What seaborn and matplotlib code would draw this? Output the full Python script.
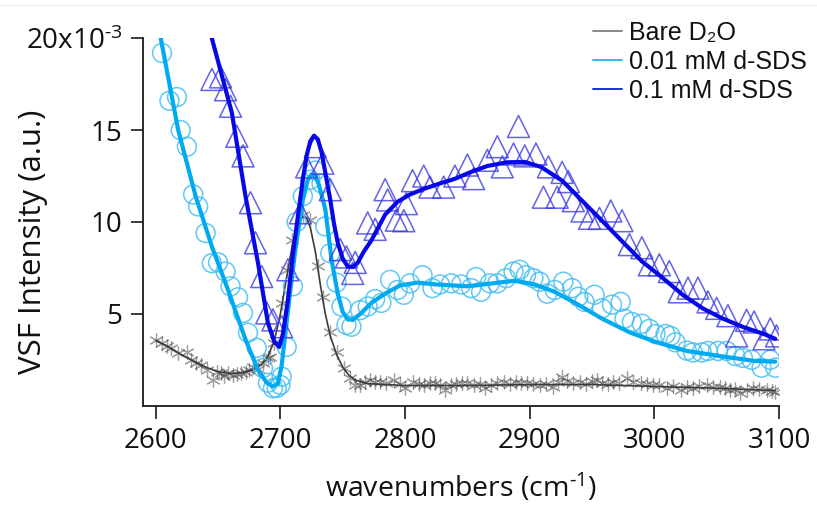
import matplotlib
matplotlib.use("Agg")
import matplotlib.pyplot as plt
from matplotlib.lines import Line2D
import seaborn as sns

# ---------------- data (y in units of 1e-3) ----------------
d2o_x = [2600, 2605, 2609, 2612, 2618, 2625, 2628, 2632, 2636, 2641, 2646, 2649, 2652, 2655,
         2658, 2662, 2665, 2668, 2672, 2675, 2678, 2682, 2686, 2690, 2692, 2695, 2701, 2705,
         2709, 2718, 2724, 2730, 2734, 2740, 2745, 2751, 2756, 2760, 2764, 2768, 2772, 2776,
         2780, 2785, 2791, 2796, 2800, 2806, 2811, 2815, 2820, 2824, 2828, 2832, 2837, 2841,
         2846, 2850, 2855, 2860, 2864, 2869, 2874, 2879, 2884, 2889, 2893, 2898, 2903, 2908,
         2913, 2919, 2923, 2926, 2930, 2935, 2940, 2945, 2950, 2954, 2958, 2963, 2967, 2972,
         2978, 2983, 2989, 2994, 2999, 3004, 3010, 3015, 3021, 3026, 3031, 3036, 3042, 3047,
         3053, 3057, 3061, 3065, 3069, 3074, 3079, 3084, 3090, 3094, 3097]
d2o_y = [3.58, 3.40, 3.25, 3.13, 2.86, 2.94, 2.50, 2.31, 2.20, 1.95, 1.40, 1.85, 1.77, 1.60,
         1.77, 1.67, 1.75, 1.77, 1.85, 1.95, 2.13, 2.00, 2.31, 2.58, 2.67, 3.40, 5.58, 7.40,
         9.03, 10.40, 10.10, 7.60, 5.90, 4.00, 2.94, 2.05, 1.50, 1.15, 1.13, 1.30, 1.40, 1.31,
         1.31, 1.25, 1.40, 1.20, 0.97, 1.31, 1.20, 1.13, 1.25, 1.22, 1.10, 0.86, 1.15, 1.20,
         1.22, 1.22, 1.10, 1.20, 0.95, 1.15, 1.25, 1.31, 1.20, 1.30, 1.25, 1.22, 1.20, 1.13,
         1.20, 1.04, 1.30, 1.58, 1.35, 1.22, 1.30, 1.20, 1.35, 1.40, 1.25, 1.20, 1.31, 1.25,
         1.49, 1.30, 1.22, 1.20, 1.13, 1.10, 0.95, 1.05, 0.86, 1.00, 0.95, 1.05, 1.13, 1.00,
         1.04, 0.95, 0.86, 0.90, 0.68, 0.85, 0.95, 0.90, 0.86, 0.80, 0.77]
d2o_fit_x = [2600, 2610, 2620, 2630, 2640, 2650, 2660, 2670, 2678, 2685, 2690, 2695, 2700,
             2705, 2710, 2714, 2718, 2721, 2724, 2728, 2732, 2736, 2740, 2745, 2750, 2755,
             2760, 2770, 2785, 2800, 2850, 2900, 2950, 3000, 3050, 3097]
d2o_fit_y = [3.55, 3.20, 2.80, 2.45, 2.10, 1.85, 1.75, 1.80, 1.95, 2.25, 2.70, 3.50, 5.00,
             7.00, 8.90, 9.90, 10.30, 10.20, 9.70, 8.40, 6.60, 5.00, 3.80, 2.80, 2.10, 1.65,
             1.40, 1.20, 1.15, 1.10, 1.10, 1.15, 1.15, 1.05, 0.95, 0.82]

sds001_x = [2605, 2611, 2617, 2620, 2625, 2630, 2634, 2640, 2645, 2650, 2656, 2660, 2666, 2670,
            2674, 2681, 2686, 2690, 2694, 2697, 2700, 2701, 2705, 2710, 2713, 2718, 2724, 2728,
            2733, 2736, 2740, 2745, 2749, 2753, 2757, 2764, 2770, 2776, 2781, 2788, 2794, 2799,
            2804, 2814, 2822, 2828, 2837, 2845, 2853, 2857, 2861, 2868, 2874, 2881, 2887, 2892,
            2897, 2903, 2908, 2914, 2920, 2927, 2934, 2939, 2944, 2952, 2958, 2966, 2973, 2976,
            2982, 2990, 2996, 3001, 3009, 3013, 3017, 3026, 3031, 3038, 3043, 3051, 3058, 3065,
            3071, 3078, 3086, 3093, 3097]
sds001_y = [19.20, 16.60, 16.80, 15.00, 14.10, 11.50, 10.85, 9.40, 7.76, 7.80, 7.30, 6.50, 5.90, 5.05,
            3.97, 3.15, 2.05, 1.25, 0.95, 0.96, 1.13, 1.58, 3.20, 6.50, 10.00, 11.40, 12.30, 12.80,
            12.10, 9.76, 8.30, 6.70, 5.40, 4.40, 4.30, 5.20, 5.40, 5.80, 5.60, 6.85, 6.30, 6.04,
            6.66, 7.10, 6.40, 6.60, 6.66, 6.60, 6.40, 7.00, 6.20, 6.66, 6.66, 6.94, 7.30, 7.40,
            7.10, 6.94, 6.75, 6.10, 6.30, 6.75, 6.40, 5.93, 5.65, 6.04, 5.30, 5.50, 5.65, 4.74,
            4.56, 4.46, 4.18, 3.90, 3.90, 3.80, 3.45, 3.00, 2.90, 2.90, 2.98, 2.98, 2.98, 2.70,
            2.60, 2.50, 2.07, 2.50, 2.07]
sds001_fit_x = [2604, 2618, 2632, 2645, 2658, 2672, 2682, 2689, 2694, 2698, 2701, 2704, 2708,
                2712, 2718, 2722, 2725, 2728, 2731, 2736, 2741, 2746, 2750, 2754, 2758, 2765,
                2773, 2784, 2796, 2810, 2825, 2850, 2870, 2888, 2904, 2920, 2939, 2958, 2980,
                3001, 3026, 3053, 3080, 3097]
sds001_fit_y = [20.00, 15.00, 11.40, 8.67, 6.30, 3.60, 1.95, 1.25, 1.05, 1.20, 2.20, 3.96, 6.30,
                8.50, 11.20, 12.30, 12.60, 12.50, 12.00, 10.70, 7.95, 6.10, 5.10, 4.70, 4.67, 5.05,
                5.60, 6.10, 6.55, 6.70, 6.60, 6.50, 6.66, 6.80, 6.60, 6.20, 5.50, 4.74, 4.00,
                3.47, 2.98, 2.70, 2.44, 2.40]

sds01_x = [2645, 2652, 2656, 2660, 2665, 2670, 2676, 2680, 2685, 2689, 2694, 2701, 2706, 2716,
           2721, 2728, 2734, 2740, 2748, 2753, 2758, 2760, 2770, 2776, 2784, 2786, 2793, 2799,
           2801, 2806, 2815, 2820, 2831, 2840, 2850, 2855, 2866, 2874, 2878, 2887, 2891, 2896,
           2905, 2911, 2915, 2922, 2926, 2931, 2935, 2942, 2948, 2956, 2965, 2974, 2980, 2990,
           2996, 3004, 3012, 3020, 3027, 3035, 3043, 3050, 3059, 3066, 3074, 3080, 3088, 3093,
           3098]
sds01_y = [17.76, 17.90, 17.20, 16.30, 14.67, 13.60, 11.05, 8.87, 7.03, 5.05, 4.67, 4.30, 7.40, 10.50,
           13.00, 14.10, 13.20, 11.76, 8.50, 8.10, 7.20, 7.80, 9.95, 9.60, 11.76, 11.20, 10.10, 10.07,
           11.00, 12.25, 12.50, 11.90, 11.90, 12.50, 13.10, 12.36, 13.36, 14.10, 13.00, 13.70, 15.20, 13.60,
           13.70, 11.35, 13.00, 11.35, 12.70, 12.20, 11.16, 10.60, 10.20, 10.20, 10.60, 10.07, 8.77, 8.60,
           7.67, 7.67, 7.30, 6.20, 6.40, 6.40, 5.65, 5.30, 4.90, 3.80, 4.65, 4.56, 3.64, 4.18,
           3.80]
sds01_fit_x = [2645, 2661, 2672, 2682, 2690, 2695, 2699, 2702, 2706, 2710, 2714, 2718, 2721,
               2724, 2727, 2730, 2733, 2736, 2740, 2743, 2746, 2750, 2754, 2758, 2762, 2767,
               2773, 2784, 2794, 2804, 2815, 2828, 2840, 2852, 2866, 2882, 2896, 2909, 2926,
               2942, 2958, 2974, 2990, 3007, 3023, 3039, 3055, 3071, 3088, 3097]
sds01_fit_y = [20.00, 15.96, 11.40, 7.78, 4.50, 3.50, 3.20, 3.90, 5.76, 8.20, 10.30, 12.30, 13.60,
               14.40, 14.70, 14.50, 13.80, 12.70, 11.20, 9.90, 8.87, 8.00, 7.58, 7.55, 7.78, 8.40,
               9.00, 10.40, 11.10, 11.50, 11.80, 12.10, 12.35, 12.70, 13.05, 13.25, 13.27, 13.00, 12.25,
               11.16, 10.07, 8.96, 7.86, 6.94, 6.02, 5.29, 4.74, 4.29, 3.90, 3.64]

labels = ["Bare D\u2082O", "0.01 mM d-SDS", "0.1 mM d-SDS"]
x_ticks = [2600, 2700, 2800, 2900, 3000, 3100]
y_ticks = [5, 10, 15, 20]
y_tick_labels = ["5", "10", "15", r"20x10$^{\text{-}3}$"]

# ---------------- style ----------------
sns.set_style("ticks")
plt.rcParams["font.family"] = ["Open Sans", "DejaVu Sans"]
plt.rcParams["mathtext.fontset"] = "custom"
plt.rcParams["mathtext.rm"] = "Open Sans"
plt.rcParams["mathtext.it"] = "Open Sans:italic"
plt.rcParams["mathtext.bf"] = "Open Sans:bold"

c_d2o_line = "#3c3c3c"
c_d2o_mk = "#444444"
c_lb_line = "#00AAF0"
c_lb_mk = "#45BEF3"
c_db_line = "#0808E6"
c_db_mk = "#3C3CE2"

fig = plt.figure(figsize=(8.17, 5.05), dpi=100)
ax = fig.add_axes([143.3 / 817, 1 - 405.7 / 505, (779 - 143.3) / 817, (405.7 - 38.3) / 505])

# Bare D2O
sns.scatterplot(x=d2o_x, y=d2o_y, marker=(6, 2, 0), s=95, color=c_d2o_mk,
                linewidth=0.9, alpha=0.5, ax=ax, zorder=2, legend=False)
sns.lineplot(x=d2o_fit_x, y=d2o_fit_y, color=c_d2o_line, lw=1.2, sort=False,
             estimator=None, ax=ax, zorder=3, legend=False)

# 0.01 mM
sns.scatterplot(x=sds001_x, y=sds001_y, marker="o", s=185, facecolor="none",
                edgecolor=c_lb_mk, linewidth=1.1, alpha=0.85, ax=ax, zorder=4, legend=False)
sns.lineplot(x=sds001_fit_x, y=sds001_fit_y, color=c_lb_line, lw=3.0, sort=False,
             estimator=None, ax=ax, zorder=5, legend=False)

# 0.1 mM
sns.scatterplot(x=sds01_x, y=sds01_y, marker="^", s=250, facecolor="none",
                edgecolor=c_db_mk, linewidth=1.1, alpha=0.8, ax=ax, zorder=6, legend=False)
sns.lineplot(x=sds01_fit_x, y=sds01_fit_y, color=c_db_line, lw=3.0, sort=False,
             estimator=None, ax=ax, zorder=7, legend=False)

ax.set_xlim(2590, 3100)
ax.set_ylim(0, 20)
ax.set_xticks(x_ticks)
ax.set_xticklabels([str(t) for t in x_ticks])
ax.set_yticks(y_ticks)
ax.set_yticklabels(y_tick_labels)

for side in ["top", "right"]:
    ax.spines[side].set_visible(False)
for side in ["left", "bottom"]:
    ax.spines[side].set_color("#1a1a1a")
    ax.spines[side].set_linewidth(1.3)

ax.tick_params(axis="both", direction="out", length=9, width=1.2, color="#1a1a1a",
               labelsize=20, labelcolor="#111111")
ax.tick_params(axis="x", pad=6)
ax.tick_params(axis="y", pad=6)

ax.set_xlabel(r"wavenumbers (cm$^{\text{-}1}$)", fontsize=20.5, color="#111111")
ax.set_ylabel("VSF Intensity (a.u.)", fontsize=22.5, color="#111111")
ax.xaxis.set_label_coords(0.5, -0.18)
ax.yaxis.set_label_coords(-0.15, 0.445)

handles = [Line2D([], [], color="#888888", lw=1.4),
           Line2D([], [], color="#3AB8F0", lw=1.4),
           Line2D([], [], color="#1530E0", lw=1.4)]
leg = fig.legend(handles, labels, loc="upper left",
                 bbox_to_anchor=(593 / 817, 1 - 21 / 505), frameon=False,
                 prop={"family": ["Liberation Sans", "DejaVu Sans"], "size": 18},
                 handlelength=1.15, handletextpad=0.3, labelspacing=0.2,
                 borderpad=0, borderaxespad=0)
for t in leg.get_texts():
    t.set_color("#111111")

fig.add_artist(Line2D([0, 1], [1 - 5 / 505, 1 - 5 / 505], color="#eeeeee", lw=0.8,
                      transform=fig.transFigure))

fig.savefig("out.png", dpi=100)
